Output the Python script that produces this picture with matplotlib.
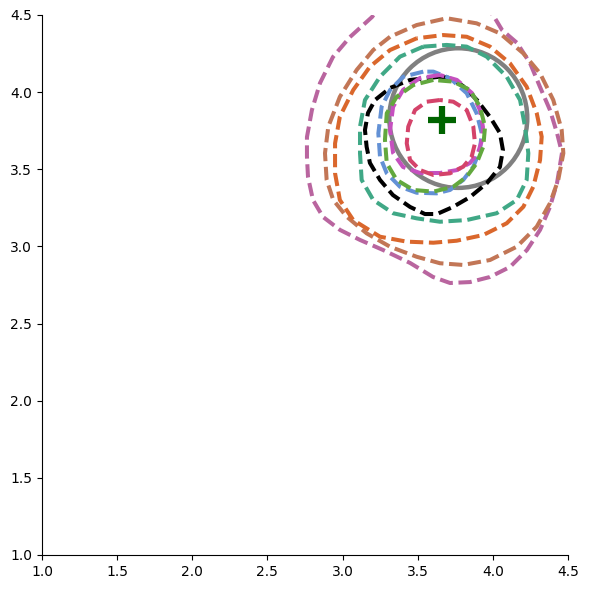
import matplotlib
matplotlib.use("Agg")
import matplotlib.pyplot as plt
from matplotlib.patches import Ellipse

# Contour outlines (data coordinates)
pink_x = [3.282, 3.196, 3.049, 2.936, 2.850, 2.796, 2.763, 2.763, 2.770, 2.803, 2.870, 2.983, 3.116, 3.269,
          3.449, 3.602, 3.715, 3.848, 3.981, 4.114, 4.227, 4.314, 4.380, 4.427, 4.460, 4.427, 4.380, 4.314,
          4.247, 4.161, 4.061, 4.001, 3.914, 3.648, 3.282]
pink_y = [4.597, 4.487, 4.357, 4.228, 4.059, 3.884, 3.709, 3.580, 3.450, 3.301, 3.191, 3.107, 3.042, 2.977,
          2.893, 2.802, 2.763, 2.769, 2.802, 2.867, 2.977, 3.107, 3.256, 3.411, 3.606, 3.735, 3.884, 4.033,
          4.189, 4.319, 4.403, 4.500, 4.597, 4.662, 4.597]

brown_x = [3.316, 3.204, 3.094, 2.982, 2.905, 2.883, 2.894, 2.938, 3.027, 3.160, 3.316, 3.493, 3.648, 3.803,
           3.981, 4.159, 4.292, 4.380, 4.435, 4.469, 4.458, 4.402, 4.314, 4.202, 4.047, 3.892, 3.693, 3.493]
brown_y = [4.359, 4.273, 4.144, 3.970, 3.776, 3.604, 3.431, 3.301, 3.193, 3.085, 2.998, 2.933, 2.891, 2.880,
           2.912, 2.998, 3.128, 3.280, 3.431, 3.604, 3.755, 3.949, 4.122, 4.252, 4.381, 4.446, 4.479, 4.435]

orange_x = [3.493, 3.316, 3.182, 3.071, 2.982, 2.950, 2.950, 2.982, 3.071, 3.249, 3.427, 3.604, 3.759, 3.936,
            4.092, 4.203, 4.269, 4.314, 4.325, 4.292, 4.225, 4.114, 3.981, 3.826, 3.670]
orange_y = [4.349, 4.273, 4.165, 4.014, 3.841, 3.668, 3.474, 3.301, 3.171, 3.063, 3.031, 3.024, 3.037, 3.074,
            3.150, 3.257, 3.387, 3.560, 3.711, 3.863, 4.035, 4.187, 4.295, 4.359, 4.370]

teal_x = [3.537, 3.382, 3.249, 3.149, 3.116, 3.116, 3.127, 3.204, 3.337, 3.493, 3.648, 3.826, 4.025, 4.159,
          4.225, 4.236, 4.214, 4.181, 4.092, 3.959, 3.826, 3.693]
teal_y = [4.295, 4.230, 4.100, 3.949, 3.776, 3.604, 3.431, 3.301, 3.215, 3.182, 3.160, 3.171, 3.215, 3.301,
          3.431, 3.604, 3.776, 3.949, 4.100, 4.230, 4.295, 4.306]

black_x = [3.648, 3.449, 3.316, 3.216, 3.169, 3.149, 3.160, 3.182, 3.249, 3.335, 3.449, 3.548, 3.628, 3.735,
           3.848, 3.961, 4.047, 4.067, 4.047, 3.981, 3.894, 3.801, 3.715]
black_y = [4.100, 4.079, 4.027, 3.949, 3.865, 3.755, 3.646, 3.541, 3.431, 3.333, 3.256, 3.210, 3.210, 3.256,
           3.320, 3.411, 3.515, 3.625, 3.735, 3.839, 3.949, 4.040, 4.092]

blue_x = [3.537, 3.404, 3.316, 3.260, 3.238, 3.249, 3.294, 3.382, 3.493, 3.626, 3.715, 3.803, 3.870, 3.914,
          3.926, 3.892, 3.826, 3.715, 3.604]
blue_y = [4.133, 4.100, 4.014, 3.906, 3.733, 3.582, 3.474, 3.387, 3.348, 3.344, 3.366, 3.431, 3.517, 3.625,
          3.733, 3.863, 3.993, 4.090, 4.133]

magenta_x = [3.648, 3.515, 3.402, 3.336, 3.316, 3.336, 3.402, 3.515, 3.648, 3.761, 3.848, 3.901, 3.928,
             3.934, 3.914, 3.861, 3.761]
magenta_y = [4.111, 4.092, 4.014, 3.904, 3.755, 3.606, 3.515, 3.476, 3.476, 3.495, 3.541, 3.606, 3.690,
             3.774, 3.884, 3.994, 4.079]

green_x = [3.604, 3.471, 3.360, 3.294, 3.282, 3.294, 3.360, 3.471, 3.604, 3.737, 3.826, 3.892, 3.936,
           3.948, 3.914, 3.848, 3.737]
green_y = [4.079, 4.046, 3.970, 3.863, 3.690, 3.539, 3.431, 3.366, 3.355, 3.387, 3.452, 3.539, 3.646,
           3.776, 3.906, 4.014, 4.068]

red_x = [3.648, 3.560, 3.482, 3.437, 3.427, 3.449, 3.515, 3.604, 3.715, 3.803, 3.859, 3.881, 3.870, 3.826,
         3.737]
red_y = [3.949, 3.938, 3.884, 3.776, 3.668, 3.560, 3.495, 3.463, 3.474, 3.517, 3.582, 3.668, 3.776, 3.884,
         3.938]

contour_colors = ["#b9659f", "#c27656", "#da672c", "#40a886", "#000000", "#6391d5", "#c550bf", "#62a83e",
                  "#d4436a"]

circle_center = (3.77, 3.832)
circle_width = 0.918
circle_height = 0.905

marker_x = [3.66]
marker_y = [3.82]

fig = plt.figure(figsize=(5.89, 5.89), dpi=100)
ax = fig.add_axes([42 / 589, 34 / 589, 526 / 589, 540 / 589])

curves = [(pink_x, pink_y), (brown_x, brown_y), (orange_x, orange_y), (teal_x, teal_y),
          (black_x, black_y), (blue_x, blue_y), (magenta_x, magenta_y), (green_x, green_y), (red_x, red_y)]
for (xs, ys), c in zip(curves, contour_colors):
    ax.plot(list(xs) + [xs[0]], list(ys) + [ys[0]], linestyle=(0, (3.3, 1.4)), color=c, lw=2.9,
            solid_joinstyle="round", dash_joinstyle="round")

ax.add_patch(Ellipse(circle_center, circle_width, circle_height, fill=False, edgecolor="#808080", lw=3.2))
ax.plot(marker_x, marker_y, marker="+", color="#006400", markersize=20, mew=4.5, linestyle="none")

ax.set_xlim(1.0, 4.5)
ax.set_ylim(1.0, 4.5)
ax.set_xticks([1.0, 1.5, 2.0, 2.5, 3.0, 3.5, 4.0, 4.5])
ax.set_yticks([1.0, 1.5, 2.0, 2.5, 3.0, 3.5, 4.0, 4.5])
ax.spines["top"].set_visible(False)
ax.spines["right"].set_visible(False)

fig.savefig("out.png", dpi=100)
